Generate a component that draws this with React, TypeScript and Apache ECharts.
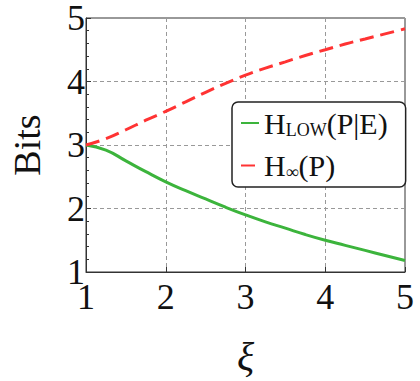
import React, { useEffect, useRef } from "react";
import * as echarts from "echarts";

const xiValues = [1, 1.25, 1.5, 1.75, 2, 2.25, 2.5, 2.75, 3, 3.25, 3.5, 3.75, 4, 4.25, 4.5, 4.75, 5];
const hInf = [3.0, 3.1, 3.24, 3.39, 3.53, 3.68, 3.83, 3.97, 4.1, 4.21, 4.31, 4.41, 4.5, 4.59, 4.67, 4.75, 4.83];
const hLow = [3.0, 2.92, 2.75, 2.58, 2.42, 2.28, 2.15, 2.02, 1.9, 1.79, 1.69, 1.59, 1.5, 1.42, 1.34, 1.26, 1.18];
const seriesNames = ["H_LOW(P|E)", "H_inf(P)"];
const xTicks = [1, 2, 3, 4, 5];
const yTicks = [1, 2, 3, 4, 5];

const FONT = "Liberation Serif";

export default function App() {
  const ref = useRef<HTMLDivElement>(null);
  useEffect(() => {
    if (!ref.current) return;
    const chart = echarts.init(ref.current, undefined, { renderer: "svg" });
    chart.setOption({
      animation: false,
      backgroundColor: "#ffffff",
      grid: {
        left: 82,
        right: 15,
        top: 16,
        bottom: 108,
        show: true,
        borderColor: "#333333",
        borderWidth: 1,
        backgroundColor: "transparent",
      },
      xAxis: {
        type: "value",
        min: xTicks[0],
        max: xTicks[xTicks.length - 1],
        interval: 1,
        name: "ξ",
        nameLocation: "middle",
        nameGap: 64,
        nameTextStyle: { fontFamily: FONT, fontSize: 40, fontStyle: "italic", color: "#111" },
        axisLine: { show: true, lineStyle: { color: "#333", width: 1 } },
        axisTick: { show: true, inside: true, length: 5, lineStyle: { color: "#333" } },
        axisLabel: { fontFamily: FONT, fontSize: 36, lineHeight: 26, color: "#111", margin: 12 },
        splitLine: { show: true, lineStyle: { color: "#999", type: [4, 3], width: 1 } },
      },
      yAxis: {
        type: "value",
        min: yTicks[0],
        max: yTicks[yTicks.length - 1],
        interval: 1,
        name: "Bits",
        nameLocation: "middle",
        nameGap: 40,
        nameTextStyle: { fontFamily: FONT, fontSize: 38, color: "#111" },
        axisLine: { show: true, lineStyle: { color: "#333", width: 1 } },
        axisTick: { show: true, inside: true, length: 5, lineStyle: { color: "#333" } },
        minorTick: { show: true, splitNumber: 5, length: 3, lineStyle: { color: "#333" } },
        axisLabel: { fontFamily: FONT, fontSize: 36, lineHeight: 24, color: "#111", margin: 1 },
        splitLine: { show: true, lineStyle: { color: "#999", type: [4, 3], width: 1 } },
      },
      legend: {
        orient: "vertical",
        left: 232,
        top: 102,
        padding: [6, 18, 6, 8],
        itemGap: 12,
        itemWidth: 18,
        itemHeight: 10,
        backgroundColor: "#ffffff",
        borderColor: "#222",
        borderWidth: 1.5,
        borderRadius: 6,
        data: seriesNames,
        itemStyle: { opacity: 0 },
        formatter: (name: string) =>
          name === seriesNames[0] ? "{m|H}{s|LOW}{m|(P|E)}" : "{m|H}{s|∞}{m|(P)}",
        textStyle: {
          fontFamily: FONT,
          color: "#111",
          rich: {
            m: { fontFamily: FONT, fontSize: 30, lineHeight: 31, color: "#111" },
            s: { fontFamily: FONT, fontSize: 18, lineHeight: 17, color: "#111", verticalAlign: "bottom" },
          },
        },
      },
      series: [
        {
          name: seriesNames[0],
          type: "line",
          smooth: true,
          symbol: "none",
          data: xiValues.map((x, i) => [x, hLow[i]]),
          lineStyle: { color: "#3cb43c", width: 3 },
          itemStyle: { color: "#3cb43c" },
        },
        {
          name: seriesNames[1],
          type: "line",
          smooth: true,
          symbol: "none",
          data: xiValues.map((x, i) => [x, hInf[i]]),
          lineStyle: { color: "#ff3333", width: 3, type: [14, 7] },
          itemStyle: { color: "#ff3333" },
        },
      ],
    });
    return () => chart.dispose();
  }, []);
  return <div ref={ref} style={{ width: 420, height: 381, position: "absolute", left: 0, top: 0 }} />;
}
